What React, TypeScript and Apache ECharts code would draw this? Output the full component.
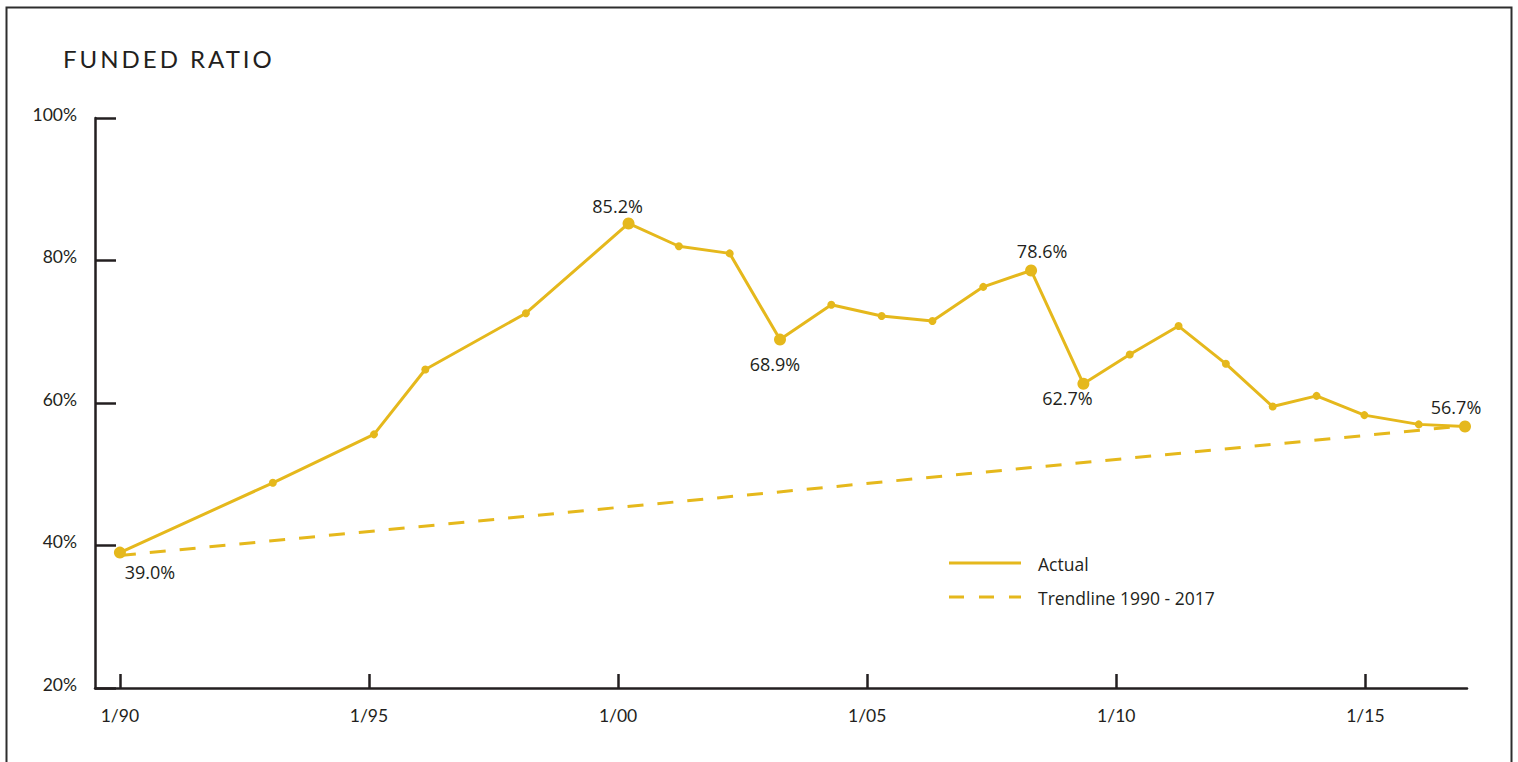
import { useEffect, useRef } from "react";
import * as echarts from "echarts";

// Funded ratio, observation dates as decimal years
const years = [
  1990.0, 1993.07, 1995.1, 1996.13, 1998.15, 2000.21, 2001.22, 2002.24, 2003.25,
  2004.28, 2005.29, 2006.31, 2007.33, 2008.29, 2009.34, 2010.27, 2011.25, 2012.2,
  2013.14, 2014.02, 2014.98, 2016.07, 2017.0,
];
const fundedRatio = [
  39.0, 48.8, 55.6, 64.7, 72.6, 85.2, 82.0, 81.0, 68.9, 73.8, 72.2, 71.5, 76.3,
  78.6, 62.7, 66.8, 70.8, 65.5, 59.5, 61.0, 58.3, 57.0, 56.7,
];
// indices of the points that carry a value label
const labelledIdx = [0, 5, 8, 13, 14, 22];

const trendYears = [1990, 2017];
const trendValues = [38.6, 56.8];

const xTickYears = [1990, 1995, 2000, 2005, 2010, 2015];
const xTickLabels = ["1/90", "1/95", "1/00", "1/05", "1/10", "1/15"];
const yTicks = [20, 40, 60, 80, 100];

const seriesNames = ["Actual", "Trendline 1990 - 2017"];
const titleText = "FUNDED RATIO";

const GOLD = "#E5B81C";
const INK = "#231F20";
const AXIS_FONT = "Lato";
const LABEL_FONT = "'Open Sans'";

// placement of each value label around its point
const labelPlacement: Record<number, { position: string; distance: number; offset: [number, number] }> = {
  0: { position: "bottom", distance: 4, offset: [30, 0] },
  5: { position: "top", distance: 2, offset: [-11, 0] },
  8: { position: "bottom", distance: 9, offset: [-5, 0] },
  13: { position: "top", distance: 0, offset: [11, -4] },
  14: { position: "bottom", distance: 4, offset: [-16, -5] },
  22: { position: "top", distance: 2, offset: [-9, -3] },
};

export default function App() {
  const ref = useRef<HTMLDivElement>(null);

  useEffect(() => {
    if (!ref.current) return;
    const chart = echarts.init(ref.current, null, { renderer: "svg" });

    const actualData = years.map((yr, i) => {
      const labelled = labelledIdx.includes(i);
      const item: any = {
        value: [yr, fundedRatio[i]],
        symbolSize: labelled ? 12 : 8,
      };
      if (labelled) {
        const p = labelPlacement[i];
        item.label = {
          show: true,
          position: p.position,
          distance: p.distance,
          offset: p.offset,
          formatter: (params: any) => `${params.value[1].toFixed(1)}%`,
          color: INK,
          fontFamily: LABEL_FONT,
          fontSize: 18,
        };
      }
      return item;
    });

    const axisLineStyle = { color: INK, width: 2.5 };

    chart.setOption({
      animation: false,
      grid: { left: 95, right: 51, top: 118, bottom: 74 },
      xAxis: {
        type: "value",
        min: 1989.5,
        max: 2017.04,
        splitLine: { show: false },
        axisLine: { show: true, onZero: false, lineStyle: axisLineStyle },
        axisTick: {
          show: true,
          inside: true,
          length: 14,
          customValues: xTickYears,
          lineStyle: axisLineStyle,
        },
        axisLabel: {
          customValues: xTickYears,
          formatter: (v: number) => xTickLabels[xTickYears.indexOf(v)] ?? "",
          margin: 18,
          color: INK,
          fontFamily: AXIS_FONT,
          fontSize: 17.5,
        },
      },
      yAxis: {
        type: "value",
        min: yTicks[0],
        max: yTicks[yTicks.length - 1],
        interval: yTicks[1] - yTicks[0],
        splitLine: { show: false },
        axisLine: { show: true, onZero: false, lineStyle: axisLineStyle },
        axisTick: { show: true, inside: true, length: 21, lineStyle: axisLineStyle },
        axisLabel: {
          formatter: (v: number) => `${v}%`,
          margin: 18,
          color: INK,
          fontFamily: AXIS_FONT,
          fontSize: 17.5,
          verticalAlign: "bottom",
          lineHeight: 8,
        },
      },
      series: [
        {
          name: seriesNames[1],
          type: "line",
          data: trendYears.map((yr, i) => [yr, trendValues[i]]),
          symbol: "none",
          lineStyle: { color: GOLD, width: 3, type: [16, 14] },
          z: 2,
          silent: true,
        },
        {
          name: seriesNames[0],
          type: "line",
          data: actualData,
          symbol: "circle",
          itemStyle: { color: GOLD },
          lineStyle: { color: GOLD, width: 3 },
          z: 3,
        },
      ],
      graphic: [
        {
          type: "rect",
          shape: { x: 6.5, y: 7.5, width: 1505, height: 820 },
          style: { fill: "none", stroke: "#2E2E2E", lineWidth: 2 },
          silent: true,
        },
        {
          type: "text",
          x: 63,
          y: 58,
          style: {
            text: titleText,
            font: `24px ${AXIS_FONT}`,
            fill: INK,
            textVerticalAlign: "middle",
          },
        },
        {
          type: "line",
          shape: { x1: 949, y1: 563, x2: 1021, y2: 563 },
          style: { stroke: GOLD, lineWidth: 3 },
        },
        {
          type: "text",
          x: 1038,
          y: 564,
          style: {
            text: seriesNames[0],
            font: `17.5px ${LABEL_FONT}`,
            fill: INK,
            textVerticalAlign: "middle",
          },
        },
        {
          type: "line",
          shape: { x1: 949, y1: 597, x2: 1021, y2: 597 },
          style: { stroke: GOLD, lineWidth: 3, lineDash: [15, 15] },
        },
        {
          type: "text",
          x: 1038,
          y: 598,
          style: {
            text: seriesNames[1],
            font: `17.5px ${LABEL_FONT}`,
            fill: INK,
            textVerticalAlign: "middle",
          },
        },
      ],
    });

    return () => chart.dispose();
  }, []);

  return (
    <>
      <style>{`.funded-chart text[style*="24px"]{letter-spacing:3px}`}</style>
      <div
        ref={ref}
        className="funded-chart"
        style={{ position: "fixed", left: 0, top: 0, width: 1518, height: 762, background: "#fff" }}
      />
    </>
  );
}
